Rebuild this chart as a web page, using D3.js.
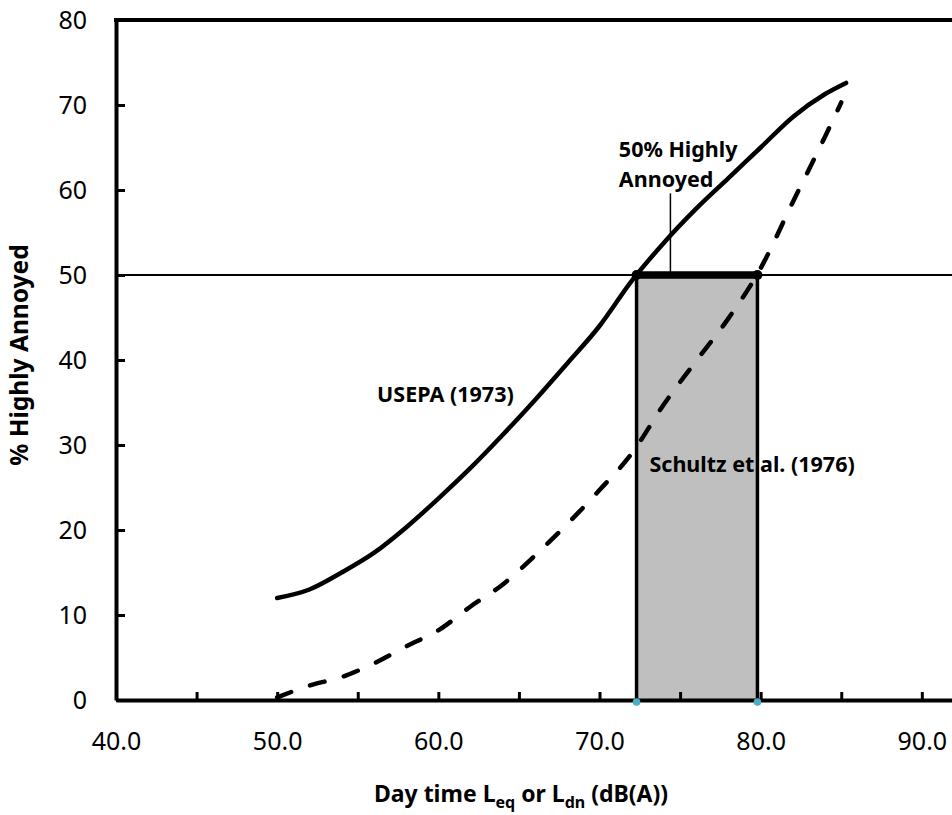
<!DOCTYPE html>
<html>
<head>
<meta charset="utf-8">
<script src="https://cdn.jsdelivr.net/npm/d3@7"></script>
<style>
  body { margin: 0; background: #fff; }
  svg { display: block; font-family: "Noto Sans", "DejaVu Sans", sans-serif; }
</style>
</head>
<body>
<div id="chart"></div>
<script>
// dados
const usepaLevel = [50, 52, 54, 56, 58, 60, 62, 64, 66, 68, 70, 72, 74, 76, 78, 80, 82, 84, 85.3];
const usepaHA    = [12, 13, 15, 17.3, 20.3, 23.7, 27.3, 31.2, 35.3, 39.6, 44.0, 49.3, 53.8, 57.8, 61.4, 65, 68.6, 71.3, 72.6];

const schultzLevel = [50, 52, 54, 56, 58, 60, 62, 64, 66, 68, 70, 72, 74, 76, 78, 80, 82, 84, 85];
const schultzHA    = [0.3, 1.7, 2.7, 4.3, 6.3, 8.2, 11, 13.6, 17, 20.7, 24.7, 29, 34.8, 39.9, 44.9, 50.8, 58.6, 66.3, 70.3];

const bandLevels = [72.3, 79.8];   // 50% HA for USEPA and Schultz
const threshold = 50;
const xTicks = [40, 45, 50, 55, 60, 65, 70, 75, 80, 85, 90, 95, 100];
const xLabels = [40, 50, 60, 70, 80, 90];
const yTicks = [0, 10, 20, 30, 40, 50, 60, 70, 80];

const width = 952, height = 815;

const x = d3.scaleLinear().domain([40, 100]).range([116, 1083]);
const y = d3.scaleLinear().domain([0, 80]).range([700, 20]);

const svg = d3.select("#chart")
  .append("svg")
  .attr("width", width)
  .attr("height", height);

// area cinza entre os dois niveis
svg.append("rect")
  .attr("x", x(bandLevels[0]))
  .attr("y", y(threshold))
  .attr("width", x(bandLevels[1]) - x(bandLevels[0]))
  .attr("height", y(0) - y(threshold))
  .attr("fill", "#bfbfbf");

// linha de 50%
svg.append("line")
  .attr("x1", x(40)).attr("x2", width)
  .attr("y1", y(threshold)).attr("y2", y(threshold))
  .attr("stroke", "#000")
  .attr("stroke-width", 2);

// rotulos
const labels = svg.append("g")
  .attr("font-weight", "bold")
  .attr("font-size", "21.5px")
  .attr("fill", "#000");

labels.append("text")
  .attr("x", x(56.2)).attr("y", y(35.1))
  .text("USEPA (1973)");

labels.append("text")
  .attr("x", x(73.1)).attr("y", y(26.8))
  .text("Schultz et al. (1976)");

labels.append("text")
  .attr("x", x(71.2)).attr("y", y(63.9))
  .text("50% Highly");

labels.append("text")
  .attr("x", x(71.2)).attr("y", y(60.4))
  .text("Annoyed");

// linha guia do rotulo
svg.append("line")
  .attr("x1", x(74.4)).attr("x2", x(74.4))
  .attr("y1", y(59.6)).attr("y2", y(threshold))
  .attr("stroke", "#000")
  .attr("stroke-width", 1.5);

// bordas verticais da area
svg.append("g")
  .selectAll("line")
  .data(bandLevels)
  .enter()
  .append("line")
  .attr("x1", d => x(d)).attr("x2", d => x(d))
  .attr("y1", y(threshold)).attr("y2", y(0))
  .attr("stroke", "#000")
  .attr("stroke-width", 3.5);

// curvas
const line = d3.line()
  .x(d => x(d[0]))
  .y(d => y(d[1]))
  .curve(d3.curveMonotoneX);

svg.append("path")
  .datum(d3.zip(usepaLevel, usepaHA))
  .attr("d", line)
  .attr("fill", "none")
  .attr("stroke", "#000")
  .attr("stroke-width", 4.5)
  .attr("stroke-linecap", "round");

svg.append("path")
  .datum(d3.zip(schultzLevel, schultzHA))
  .attr("d", line)
  .attr("fill", "none")
  .attr("stroke", "#000")
  .attr("stroke-width", 4.5)
  .attr("stroke-linecap", "round")
  .attr("stroke-dasharray", "15,20");

// topo grosso da area
svg.append("line")
  .attr("x1", x(bandLevels[0])).attr("x2", x(bandLevels[1]))
  .attr("y1", y(threshold)).attr("y2", y(threshold))
  .attr("stroke", "#000")
  .attr("stroke-width", 7.5);

svg.append("g")
  .selectAll("circle")
  .data(bandLevels)
  .enter()
  .append("circle")
  .attr("cx", d => x(d))
  .attr("cy", y(threshold))
  .attr("r", 5)
  .attr("fill", "#000");

// eixos
const xAxis = svg.append("g")
  .attr("transform", `translate(0,${y(0)})`)
  .call(d3.axisBottom(x)
    .tickValues(xTicks)
    .tickSizeInner(-8)
    .tickSizeOuter(0)
    .tickPadding(32)
    .tickFormat(d => xLabels.includes(d) ? d3.format(".1f")(d) : ""));

const yAxis = svg.append("g")
  .attr("transform", `translate(${x(40)},0)`)
  .call(d3.axisLeft(y)
    .tickValues(yTicks)
    .tickSizeInner(-9)
    .tickSizeOuter(0)
    .tickPadding(29)
    .tickFormat(d3.format("d")));

[xAxis, yAxis].forEach(g => {
  g.attr("font-family", null).attr("font-size", "25px");
  g.select(".domain").attr("stroke", "#000").attr("stroke-width", 4);
  g.selectAll(".tick line").attr("stroke", "#000").attr("stroke-width", 3);
  g.selectAll(".tick text").attr("fill", "#000");
});
yAxis.select(".tick:last-of-type line").remove();

// borda superior
svg.append("line")
  .attr("x1", x(40) - 2).attr("x2", x(100))
  .attr("y1", y(80)).attr("y2", y(80))
  .attr("stroke", "#000")
  .attr("stroke-width", 4);

// marcadores azuis no eixo
svg.append("g")
  .selectAll("circle")
  .data(bandLevels)
  .enter()
  .append("circle")
  .attr("cx", d => x(d))
  .attr("cy", y(0) + 2)
  .attr("r", 3.8)
  .attr("fill", "#4bacc6");

// titulos dos eixos
const xTitle = svg.append("text")
  .attr("x", 521)
  .attr("y", 802)
  .attr("text-anchor", "middle")
  .attr("font-weight", "bold")
  .attr("font-size", "23px");
xTitle.append("tspan").text("Day time L");
xTitle.append("tspan").attr("font-size", "16px").attr("dy", 6).text("eq");
xTitle.append("tspan").attr("dy", -6).text(" or L");
xTitle.append("tspan").attr("font-size", "16px").attr("dy", 6).text("dn");
xTitle.append("tspan").attr("dy", -6).text(" (dB(A))");

svg.append("text")
  .attr("transform", "translate(28,355) rotate(-90)")
  .attr("text-anchor", "middle")
  .attr("font-weight", "bold")
  .attr("font-size", "24.5px")
  .text("% Highly Annoyed");
</script>
</body>
</html>
